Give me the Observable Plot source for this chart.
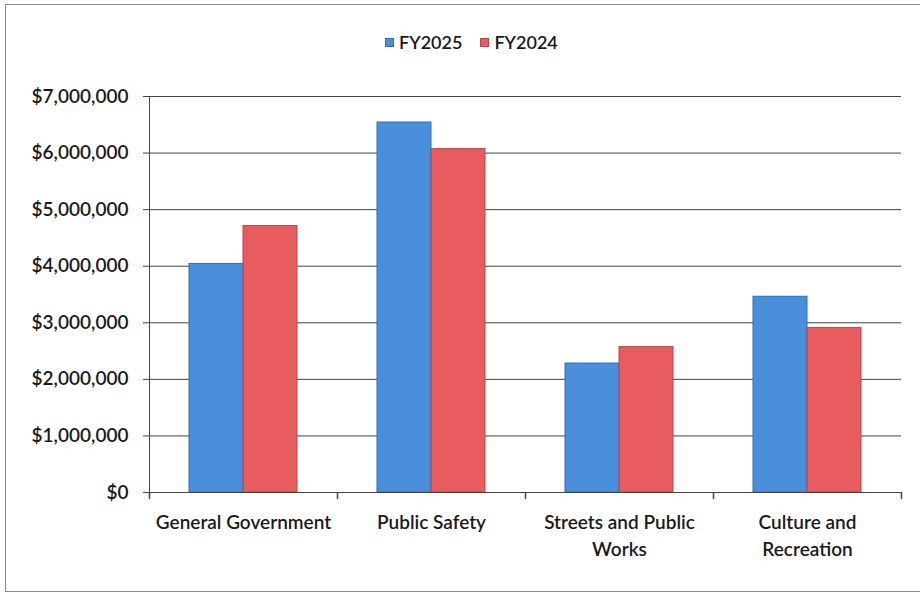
<!DOCTYPE html>
<html>
<head>
<meta charset="utf-8">
<script src="https://cdn.jsdelivr.net/npm/d3@7"></script>
<script src="https://cdn.jsdelivr.net/npm/@observablehq/plot@0.6"></script>
<style>
  body { margin: 0; background: #fff; overflow: hidden; }
  #chart { position: relative; width: 920px; height: 596px; font-family: Lato, "Open Sans", sans-serif; font-weight: 600; color: #1a1a1a; }
  #border { position: absolute; left: 5px; top: 4px; width: 940px; height: 588px; border: 1.5px solid #8a8a8a; box-sizing: border-box; pointer-events: none; }
  #legend { position: absolute; top: 31px; left: 385px; display: flex; align-items: center; gap: 18px; font-size: 18px; }
  #legend .item { display: flex; align-items: center; gap: 5px; }
  #legend .swatch { width: 9px; height: 9px; box-sizing: border-box; border: 1px solid; }
  #plot { position: absolute; left: 0; top: 60px; }
</style>
</head>
<body>
<div id="chart">
  <div id="legend"></div>
  <div id="plot"></div>
  <div id="border"></div>
</div>
<script>
// Expenditure categories and their axis labels (wrapped the way they are printed)
const categories = ["General Government", "Public Safety", "Streets and Public Works", "Culture and Recreation"];
const categoryLabels = ["General Government", "Public Safety", "Streets and Public\nWorks", "Culture and\nRecreation"];

// Fiscal years shown side by side in each group
const series = ["FY2025", "FY2024"];
const fy2025 = [4040000, 6540000, 2280000, 3460000];
const fy2024 = [4710000, 6070000, 2570000, 2910000];

// Value axis ticks
const yTicks = [0, 1000000, 2000000, 3000000, 4000000, 5000000, 6000000, 7000000];

const fills = {FY2025: "#4a8fdc", FY2024: "#e85c5f"};
const edges = {FY2025: "#2f6db3", FY2024: "#b5474a"};

const rows = series.flatMap((s, j) =>
  categories.map((c, i) => ({category: c, series: s, value: (j === 0 ? fy2025 : fy2024)[i]}))
);
const labelOf = new Map(categories.map((c, i) => [c, categoryLabels[i]]));

// A plain stroke used for the small category-boundary ticks
const tickShape = {draw(context, l) { context.moveTo(0, 0); context.lineTo(0, -l); }};

const axisColor = "#444";

const chart = Plot.plot({
  width: 920,
  height: 536,
  marginTop: 36,
  marginBottom: 104,
  marginLeft: 149,
  marginRight: 19,
  style: {fontFamily: "Lato, 'Open Sans', sans-serif", fontWeight: 600, fontSize: "19px", color: "#1a1a1a", background: "transparent"},
  fx: {domain: categories, padding: 0, label: null},
  x: {domain: series, paddingInner: 0, paddingOuter: 0.74, axis: null},
  y: {domain: [0, 7000000], axis: null},
  marks: [
    Plot.gridY(yTicks.slice(1), {stroke: axisColor, strokeOpacity: 1}),
    ...series.map(s => Plot.barY(rows.filter(r => r.series === s), {
      fx: "category", x: "series", y: "value",
      fill: fills[s], stroke: edges[s], strokeWidth: 1
    })),
    Plot.ruleY([0], {stroke: axisColor}),
    Plot.frame({anchor: "left", facetAnchor: "left", stroke: axisColor}),
    Plot.vector(categories, {fx: d => d, frameAnchor: "bottom-left", length: 6, rotate: 180, anchor: "start", shape: tickShape, stroke: axisColor}),
    Plot.vector(categories.slice(-1), {fx: d => d, frameAnchor: "bottom-right", length: 6, rotate: 180, anchor: "start", shape: tickShape, stroke: axisColor}),
    Plot.axisY(yTicks, {tickFormat: d3.format("$,"), tickSize: 6, tickPadding: 15, stroke: axisColor, fontSize: 19, label: null}),
    Plot.axisFx({anchor: "bottom", tickSize: 0, tickPadding: 17, lineHeight: 1.42, fontSize: 19, tickFormat: d => labelOf.get(d), label: null})
  ]
});
document.getElementById("plot").append(chart);

// Legend above the plot
const legend = d3.select("#legend");
series.forEach(s => {
  const item = legend.append("div").attr("class", "item");
  item.append("div").attr("class", "swatch").style("background", fills[s]).style("border-color", edges[s]);
  item.append("span").text(s);
});
</script>
</body>
</html>
